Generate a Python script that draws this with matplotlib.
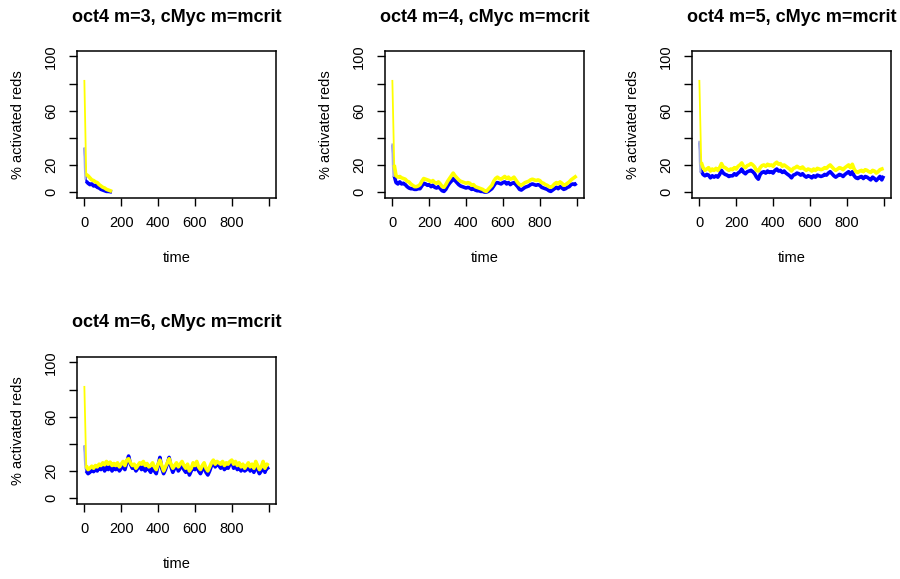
import matplotlib
matplotlib.use("Agg")
import matplotlib.pyplot as plt

plt.rcParams['font.family'] = ['Liberation Sans', 'DejaVu Sans']

titles = ["oct4 m=3, cMyc m=mcrit", "oct4 m=4, cMyc m=mcrit",
          "oct4 m=5, cMyc m=mcrit", "oct4 m=6, cMyc m=mcrit"]

time_short = list(range(0, 151, 10))
time_long = list(range(0, 1001, 10))
time_start = [0, 3, 6]

# m = 3
yellow_m3 = [82, 13, 12, 10.5, 9, 8.5, 7.5, 7, 5.5, 4.5, 3.5, 3, 2, 1.5, 1, 0.5]
blue_m3 = [32, 8, 6.5, 5.5, 6, 4.5, 5, 3.5, 3, 2, 1.5, 1, 0.5, 0.5, 0.3, 0]
start_m3 = [32, 18, 10]

# m = 4
yellow_m4 = [82, 20, 12, 11, 11.5, 10.5, 10, 9.5, 8, 7.5,
             6, 5, 4, 4, 4.5, 5.5, 8, 10, 9.5, 9,
             8.5, 7.5, 8.5, 7, 6.5, 7.5, 6, 4, 3.5, 5.5,
             8, 10, 12, 14, 12, 10.5, 9, 8, 7.5, 7,
             6.5, 7, 6.5, 5, 5.5, 4, 3.5, 3, 2.5, 2,
             1, 0.5, 2, 3.5, 5, 8, 10, 11, 10, 9.5,
             10.5, 11.5, 10, 11, 9.5, 10, 11, 9, 7, 5.5,
             5, 6, 7, 7.5, 8, 9, 9.5, 9, 8.5, 9,
             8.5, 7, 6.5, 5.5, 5, 4, 3.5, 4.5, 6, 7,
             6, 7.5, 6.5, 5, 5.5, 6.5, 7.5, 9, 10, 11,
             12]
blue_m4 = [34, 12, 7, 6, 7.5, 6, 6.5, 5.5, 4, 3,
           2.5, 2.5, 2, 2, 2.5, 2.5, 4.5, 6.5, 6, 5,
           5.5, 4, 5, 3.5, 3, 4, 2.5, 1, 0.5, 2,
           4.5, 6.5, 8, 10, 8.5, 7, 5.5, 4.5, 4, 3.5,
           3, 3.5, 3, 2, 2.5, 1.5, 1, 1, 0.5, 0.5,
           0, 0, 0.5, 1.5, 2.5, 4.5, 6.5, 7, 6.5, 6,
           7, 7.5, 6, 7, 5.5, 6.5, 7, 5.5, 4, 2,
           1.5, 2.5, 3.5, 4, 4.5, 5.5, 6, 5.5, 5, 5.5,
           5, 3.5, 3, 2.5, 2, 1, 0.5, 1.5, 2.5, 3.5,
           2.5, 4, 3, 2, 2.5, 3.5, 4, 5.5, 6, 5.5,
           6.5]
start_m4 = [35, 20, 12]

# m = 5
yellow_m5 = [82, 22, 18, 16, 17, 18, 15.5, 17, 16, 17.5,
             16, 18, 21, 18.5, 18, 17, 16, 17, 16.5, 18,
             17, 19, 20, 21.5, 19, 18, 19.5, 20, 21, 20,
             18.5, 16, 15.5, 18, 19.5, 20, 19, 20.5, 19.5, 20,
             19, 21, 22, 20.5, 21, 19, 20, 19, 18, 17,
             15.5, 17.5, 18, 19, 18, 17.5, 18.5, 17, 16, 17,
             16.5, 15.5, 17, 16, 17.5, 17, 16.5, 17, 18, 17.5,
             19, 20, 18.5, 17, 16, 17, 18, 17.5, 16.5, 18,
             19, 20, 18, 20.5, 17, 15, 14.5, 15.5, 16, 15,
             16.5, 16, 15, 14.5, 16, 15.5, 14, 15, 16.5, 17,
             17.5]
blue_m5 = [36, 16, 13, 12, 13, 12.5, 10.5, 12, 11, 12,
           11, 13, 16, 14, 13, 12.5, 11.5, 12, 12, 13.5,
           12.5, 14, 15, 17, 14.5, 13.5, 15, 15.5, 16, 15,
           13.5, 11, 9.5, 13, 14.5, 15, 14, 15.5, 14.5, 15,
           14, 16, 17, 15.5, 16, 14.5, 15.5, 14, 13, 12,
           10.5, 12.5, 13, 14, 13.5, 12.5, 13.5, 12, 11, 12,
           11.5, 10.5, 12, 11, 12.5, 12, 11.5, 12, 13, 12.5,
           14, 15, 13.5, 12, 11, 12, 13, 12.5, 11.5, 13,
           14, 15, 13, 15, 12, 10.5, 10, 11, 11.5, 10,
           11.5, 11, 10, 9, 11, 10, 8.5, 10, 11.5, 9,
           12]
start_m5 = [37, 22, 15]

# m = 6
yellow_m6 = [82, 24, 21, 22, 23.5, 22, 24, 23, 25, 24,
             26, 24.5, 27, 25, 26.5, 24, 25.5, 24, 26, 23,
             25, 27, 24, 28, 29, 26, 24, 25, 22, 24,
             26, 25, 27, 24, 25.5, 23, 24, 26, 23, 21,
             25, 28, 24, 20, 23, 26, 29, 25, 22, 24,
             26, 23, 25, 27, 24, 22, 25, 20, 22, 26,
             24, 27, 23, 21, 24, 26, 22, 20, 23, 26,
             28, 25, 27, 26, 25, 27, 24, 26, 25, 27,
             28, 25, 27, 24, 26, 23, 25, 22, 24, 26,
             23, 25, 22, 27, 24, 21, 23, 27, 22, 25,
             24]
blue_m6 = [38, 20, 18, 19, 21, 19.5, 21, 20, 23, 21,
           24, 20, 23, 21, 24, 20, 22, 21, 23, 20,
           22, 24, 21, 26, 31, 25, 22, 23, 20, 22,
           24, 21, 23, 20, 23, 21, 19, 23, 20, 18,
           24, 30, 22, 18, 21, 25, 30, 23, 19, 22,
           24, 20, 22, 25, 21, 19, 22, 17, 20, 23,
           21, 25, 20, 18, 21, 23, 19, 17, 20, 24,
           27, 23, 25, 24, 22, 24, 21, 23, 22, 25,
           27, 22, 24, 21, 23, 20, 22, 20, 21, 24,
           20, 22, 19, 23, 21, 18, 20, 25, 19, 23,
           21]
start_m6 = [38, 28, 22]

panels = [
    (time_short, blue_m3, yellow_m3, start_m3),
    (time_long, blue_m4, yellow_m4, start_m4),
    (time_long, blue_m5, yellow_m5, start_m5),
    (time_long, blue_m6, yellow_m6, start_m6),
]

x_ticks = [0, 200, 400, 600, 800, 1000]
x_labels = ["0", "200", "400", "600", "800", ""]
y_ticks = [0, 20, 40, 60, 80, 100]
y_labels = ["0", "20", "", "60", "", "100"]

W, H = 900, 579
fig = plt.figure(figsize=(W / 100, H / 100), dpi=100)

lefts = [77, 385, 692]
tops = [51, 357]
box_w, box_h = 199, 146.5

BAND = dict(lw=2.6, solid_joinstyle="round", solid_capstyle="butt")

for i, (t, blue, yellow, start) in enumerate(panels):
    r, c = divmod(i, 3)
    left, top = lefts[c], tops[r]
    ax = fig.add_axes([left / W, 1 - (top + box_h) / H, box_w / W, box_h / H])
    # thin opening drop, then the wider noisy trajectory
    ax.plot(t[:2], blue[:2], color="#0000FF", lw=1.2)
    ax.plot(t[1:], blue[1:], color="#0000FF", **BAND)
    ax.plot(time_start, start, color="#A6AEE0", lw=1.6)
    ax.plot(t[:2], yellow[:2], color="#FFFF00", lw=1.3)
    ax.plot(t[1:], yellow[1:], color="#FFFF00", **BAND)
    ax.set_xlim(-40, 1040)
    ax.set_ylim(-4, 104)
    ax.set_xticks(x_ticks)
    ax.set_xticklabels(x_labels)
    ax.set_yticks(y_ticks)
    ax.set_yticklabels(y_labels, rotation=90, va="center")
    ax.tick_params(direction="out", length=5.5, width=1.0, labelsize=10.5,
                   color="black")
    ax.tick_params(axis="y", pad=8)
    ax.tick_params(axis="x", pad=8)
    for sp in ax.spines.values():
        sp.set_linewidth(1.1)
    cx = (left + box_w / 2) / W
    fig.text(cx, 1 - (17 + r * 305) / H, titles[i], ha="center", va="center",
             fontsize=13, fontweight="bold")
    fig.text(cx, 1 - (258 + r * 306) / H, "time", ha="center", va="center",
             fontsize=10.5)
    fig.text((left - 59) / W, 1 - (top + box_h / 2) / H, "% activated reds",
             ha="center", va="center", rotation=90, fontsize=10.5)

fig.savefig("out.png", dpi=100, facecolor="white")
